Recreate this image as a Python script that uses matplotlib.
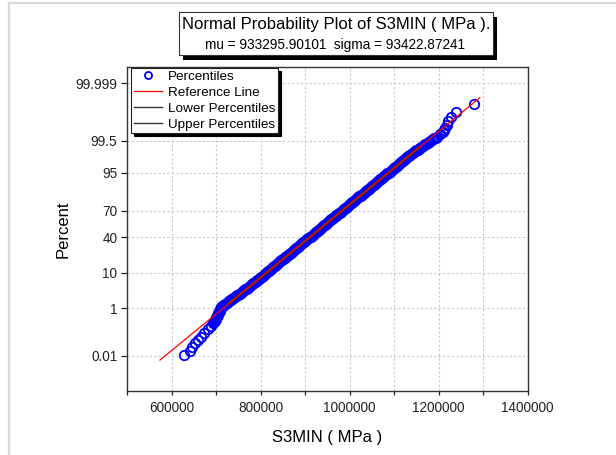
import numpy as np
import matplotlib
matplotlib.use("Agg")
import matplotlib.pyplot as plt
from matplotlib.patches import Rectangle
from matplotlib.lines import Line2D
from matplotlib.ticker import FuncFormatter

plt.rcParams['font.family'] = ['Liberation Sans', 'DejaVu Sans']

# ---------------- data ----------------
mu = 933295.90101
sigma = 93422.87241

# plotting percentiles (%) of the sorted sample and the S3MIN values (MPa)
percentiles = [
    0.011, 0.017, 0.028, 0.040, 0.056, 0.079, 0.117, 0.162, 0.221, 0.298,
    0.322, 0.347, 0.374, 0.402, 0.433, 0.466, 0.501, 0.539, 0.579, 0.621,
    0.666, 0.714, 0.765, 0.820, 0.877, 0.939, 1.004, 1.072, 1.145, 1.222,
    1.304, 1.390, 1.482, 1.578, 1.679, 1.786, 1.899, 2.018, 2.143, 2.275,
    2.413, 2.559, 2.712, 2.872, 3.040, 3.216, 3.400, 3.593, 3.795, 4.006,
    4.227, 4.457, 4.697, 4.947, 5.209, 5.480, 5.763, 6.057, 6.363, 6.681,
    7.010, 7.353, 7.708, 8.076, 8.457, 8.851, 9.259, 9.680, 10.116, 10.565,
    11.029, 11.507, 12.000, 12.507, 13.030, 13.567, 14.118, 14.686, 15.268, 15.866,
    16.479, 17.106, 17.749, 18.406, 19.079, 19.766, 20.469, 21.186, 21.918, 22.663,
    23.423, 24.196, 24.984, 25.785, 26.599, 27.425, 28.265, 29.116, 29.980, 30.854,
    31.741, 32.636, 33.542, 34.458, 35.383, 36.317, 37.259, 38.209, 39.166, 40.129,
    41.099, 42.074, 43.054, 44.038, 45.026, 46.017, 47.011, 48.006, 49.003, 50.000,
    50.997, 51.994, 52.989, 53.983, 54.974, 55.962, 56.946, 57.926, 58.901, 59.871,
    60.834, 61.791, 62.741, 63.683, 64.617, 65.542, 66.458, 67.364, 68.259, 69.146,
    70.020, 70.884, 71.735, 72.575, 73.401, 74.215, 75.016, 75.804, 76.577, 77.337,
    78.082, 78.814, 79.531, 80.234, 80.921, 81.594, 82.251, 82.894, 83.521, 84.134,
    84.732, 85.314, 85.882, 86.433, 86.970, 87.493, 88.000, 88.493, 88.971, 89.435,
    89.884, 90.320, 90.741, 91.149, 91.543, 91.924, 92.292, 92.647, 92.990, 93.319,
    93.637, 93.943, 94.237, 94.520, 94.791, 95.053, 95.303, 95.543, 95.773, 95.994,
    96.205, 96.407, 96.600, 96.784, 96.960, 97.128, 97.288, 97.441, 97.587, 97.725,
    97.857, 97.982, 98.101, 98.214, 98.321, 98.422, 98.518, 98.610, 98.696, 98.778,
    98.855, 98.928, 98.996, 99.061, 99.123, 99.180, 99.235, 99.286, 99.334, 99.379,
    99.421, 99.461, 99.499, 99.534, 99.567, 99.598, 99.626, 99.653, 99.728, 99.781,
    99.810, 99.841, 99.883, 99.921, 99.949, 99.968, 99.987,
]
s3min_values = [
    629000, 641000, 647000, 653000, 659000, 666000, 674000, 681000, 689000, 694000,
    695500, 697000, 698000, 699000, 700000, 701000, 702000, 703000, 703500, 704000,
    705000, 706000, 707000, 708000, 708500, 709000, 710500, 712000, 714000, 716000,
    718500, 721000, 723500, 726000, 728500, 731000, 733500, 736500, 739000, 742000,
    744500, 747500, 750000, 753000, 755500, 758500, 761000, 763500, 766000, 768500,
    771000, 773500, 776000, 778500, 781000, 783500, 786000, 788500, 791000, 793000,
    795500, 798000, 800000, 802500, 805000, 807000, 809500, 812000, 814000, 816500,
    819000, 821000, 823500, 826000, 828000, 830500, 833000, 835000, 837500, 840000,
    842000, 844500, 847000, 849000, 851500, 854000, 856000, 858500, 861000, 863000,
    865500, 868000, 870000, 872500, 875000, 877000, 879500, 882000, 884000, 886500,
    889000, 891000, 893500, 896000, 898000, 900500, 903000, 905000, 907500, 910000,
    912500, 914500, 917000, 919500, 921500, 924000, 926500, 928500, 931000, 933500,
    935500, 938000, 940500, 942500, 945000, 947500, 949500, 952000, 954500, 956500,
    959000, 961500, 963500, 966000, 968500, 970500, 973000, 975500, 977500, 980000,
    982500, 984500, 987000, 989500, 991500, 994000, 996500, 998500, 1001000, 1003500,
    1005500, 1008000, 1010500, 1012500, 1015000, 1017500, 1019500, 1022000, 1024500, 1026500,
    1029000, 1031500, 1033500, 1036000, 1038500, 1040500, 1043000, 1045500, 1047500, 1050000,
    1052500, 1054500, 1057000, 1059500, 1062000, 1064000, 1066500, 1069000, 1071000, 1073500,
    1076000, 1078000, 1080500, 1083000, 1085000, 1087500, 1090000, 1092000, 1094500, 1097000,
    1099000, 1101500, 1104000, 1106000, 1108500, 1111000, 1113000, 1115500, 1118000, 1120000,
    1122500, 1125000, 1127000, 1129500, 1132000, 1134000, 1136500, 1139000, 1141500, 1144000,
    1146500, 1149500, 1152500, 1155500, 1158500, 1161000, 1164000, 1167000, 1169500, 1172000,
    1175000, 1178000, 1181000, 1184000, 1187000, 1190000, 1193500, 1197000, 1204000, 1209000,
    1212000, 1215000, 1218000, 1222000, 1228000, 1239000, 1280000,
]

ref_values = [574100, 1292500]
ref_pct = [0.006, 99.994]

lower_values = [731000, 1161400]
lower_pct = [1.4, 99.2]
upper_values = [725000, 1155400]
upper_pct = [1.4, 99.2]

ytick_pct = [0.01, 1, 10, 40, 70, 95, 99.5, 99.999]
ytick_labels = ['0.01', '1', '10', '40', '70', '95', '99.5', '99.999']
xticks_major = [600000, 800000, 1000000, 1200000, 1400000]
xticks_minor = [500000, 700000, 900000, 1100000, 1300000]

title_line1 = 'Normal Probability Plot of S3MIN ( MPa ).'
title_line2 = 'mu = 933295.90101  sigma = 93422.87241'


# --------- normal probability scale helper (inverse normal CDF) ---------
def norm_ppf(p):
    p = np.atleast_1d(np.asarray(p, dtype=float))
    a = [-3.969683028665376e+01, 2.209460984245205e+02, -2.759285104469687e+02,
         1.383577518672690e+02, -3.066479806614716e+01, 2.506628277459239e+00]
    b = [-5.447609879822406e+01, 1.615858368580409e+02, -1.556989798598866e+02,
         6.680131188771972e+01, -1.328068155288572e+01]
    c = [-7.784894002430293e-03, -3.223964580411365e-01, -2.400758277161838e+00,
         -2.549732539343734e+00, 4.374664141464968e+00, 2.938163982698783e+00]
    d = [7.784695709041462e-03, 3.224671290700398e-01, 2.445134137142996e+00,
         3.754408661907416e+00]
    plow = 0.02425
    z = np.empty_like(p)
    lo = p < plow
    hi = p > 1 - plow
    mid = ~(lo | hi)
    q = np.sqrt(-2 * np.log(p[lo]))
    z[lo] = (((((c[0]*q+c[1])*q+c[2])*q+c[3])*q+c[4])*q+c[5]) / ((((d[0]*q+d[1])*q+d[2])*q+d[3])*q+1)
    q = np.sqrt(-2 * np.log(1 - p[hi]))
    z[hi] = -(((((c[0]*q+c[1])*q+c[2])*q+c[3])*q+c[4])*q+c[5]) / ((((d[0]*q+d[1])*q+d[2])*q+d[3])*q+1)
    q = p[mid] - 0.5
    r = q * q
    z[mid] = (((((a[0]*r+a[1])*r+a[2])*r+a[3])*r+a[4])*r+a[5])*q / (((((b[0]*r+b[1])*r+b[2])*r+b[3])*r+b[4])*r+1)
    return z


def pct_to_z(pct):
    return norm_ppf(np.asarray(pct, dtype=float) / 100.0)


# ---------------- figure ----------------
W, H = 616, 455
fig = plt.figure(figsize=(W / 100, H / 100), dpi=100)
fig.patch.set_facecolor('white')

# light grey outer frame (top and left)
fig.add_artist(Line2D([9 / W, 1.0], [1 - 3 / H, 1 - 3 / H], transform=fig.transFigure,
                      color='#d9d9d9', lw=1.6))
fig.add_artist(Line2D([9 / W, 9 / W], [0.0, 1 - 3 / H], transform=fig.transFigure,
                      color='#d9d9d9', lw=1.6))

ax_l, ax_r, ax_t, ax_b = 127, 527.7, 66.7, 391
ax = fig.add_axes([ax_l / W, 1 - ax_b / H, (ax_r - ax_l) / W, (ax_b - ax_t) / H])

grid_kw = dict(color='#c8c8c8', lw=0.8, ls=(0, (2, 2)))
ax.set_xlim(500000, 1400000)
ax.set_xticks(xticks_major)
ax.set_xticks(xticks_minor, minor=True)
ax.xaxis.set_major_formatter(FuncFormatter(lambda v, _: f'{int(v)}'))
ax.grid(True, which='both', axis='x', **grid_kw)

ylims = norm_ppf([1e-6, 1 - 1e-6])
ax.set_ylim(float(ylims[0]), float(ylims[1]))
ax.set_yticks(pct_to_z(ytick_pct))
ax.set_yticklabels(ytick_labels)
ax.grid(True, which='major', axis='y', **grid_kw)
ax.set_axisbelow(True)

ax.tick_params(axis='x', which='both', direction='out', length=3, width=0.9,
               labelsize=9.8, pad=4.5, colors='#222222')
ax.tick_params(axis='y', which='both', direction='out', length=4, width=0.9,
               labelsize=9.8, pad=3, colors='#222222')
for sp in ax.spines.values():
    sp.set_color('#333333')
    sp.set_linewidth(1.0)

# points
ax.plot(s3min_values, pct_to_z(percentiles), linestyle='none', marker='o',
        markersize=6.8, markerfacecolor='none', markeredgecolor='#0000ff',
        markeredgewidth=1.3, zorder=2, label='Percentiles')
# reference and percentile lines
ax.plot(lower_values, pct_to_z(lower_pct), color='#333333', lw=1.0, zorder=3,
        label='Lower Percentiles')
ax.plot(upper_values, pct_to_z(upper_pct), color='#333333', lw=1.0, zorder=3,
        label='Upper Percentiles')
ax.plot(ref_values, pct_to_z(ref_pct), color='#ff0000', lw=0.9, zorder=4,
        label='Reference Line')

ax.set_xlabel('S3MIN ( MPa )', fontsize=12)
ax.set_ylabel('Percent', fontsize=12)
ax.xaxis.set_label_coords(0.5, (ax_b - 430) / (ax_b - ax_t))
ax.yaxis.set_label_coords((71 - ax_l) / (ax_r - ax_l), 0.5)

# legend (order as in reference)
h, l = ax.get_legend_handles_labels()
order = ['Percentiles', 'Reference Line', 'Lower Percentiles', 'Upper Percentiles']
hh = [h[l.index(o)] for o in order]
leg = fig.legend(hh, order, loc='upper left', bbox_to_anchor=(131 / W, 1 - 68 / H),
                 bbox_transform=fig.transFigure, borderaxespad=0, fontsize=9.7,
                 frameon=True, fancybox=False, shadow={'color': 'black', 'alpha': 1},
                 handlelength=2.1, handletextpad=0.45, borderpad=0.2, labelspacing=0.25,
                 markerscale=0.75)
leg.get_frame().set_edgecolor('#222222')
leg.get_frame().set_linewidth(0.8)
leg.get_frame().set_alpha(1)

# title box with shadow
bx, by, bw, bh = 179, 12, 314, 43
fig.add_artist(Rectangle(((bx + 4) / W, 1 - (by + bh + 5) / H), bw / W, bh / H,
                         transform=fig.transFigure, facecolor='black', edgecolor='none'))
fig.add_artist(Rectangle((bx / W, 1 - (by + bh) / H), bw / W, bh / H,
                         transform=fig.transFigure, facecolor='white',
                         edgecolor='#333333', lw=0.8))
fig.text(336 / W, 1 - 24 / H, title_line1, ha='center', va='center', fontsize=12)
fig.text(335 / W, 1 - 45.5 / H, title_line2, ha='center', va='center', fontsize=9.8)

fig.savefig('out.png', dpi=100)
